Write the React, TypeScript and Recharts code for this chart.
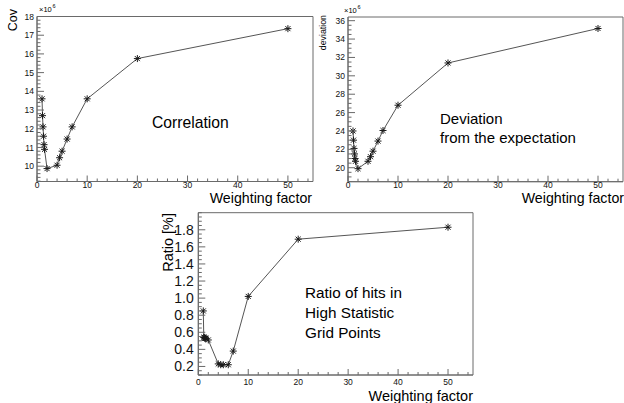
import React from 'react';
import { LineChart, Line, XAxis, YAxis, ReferenceArea } from 'recharts';

// ---- data ----
const weights = [1, 1.1, 1.2, 1.3, 1.4, 1.5, 2, 4, 4.5, 5, 6, 7, 10, 20, 50];
const covValues = [13.6, 12.7, 12.1, 11.6, 11.15, 10.9, 9.87, 10.05, 10.45, 10.8, 11.45, 12.1, 13.6, 15.75, 17.35];
const deviationValues = [24.0, 23.0, 22.1, 21.5, 21.0, 20.7, 19.9, 20.7, 21.2, 21.8, 22.9, 24.05, 26.8, 31.4, 35.15];
const ratioValues = [0.85, 0.54, 0.54, 0.53, 0.53, 0.53, 0.51, 0.23, 0.22, 0.22, 0.22, 0.38, 1.02, 1.69, 1.83];

const xMajorTicks = [0, 10, 20, 30, 40, 50];
const xTickLabels = ['0', '10', '20', '30', '40', '50'];
const covMajorTicks = [10, 11, 12, 13, 14, 15, 16, 17, 18];
const covTickLabels = ['10', '11', '12', '13', '14', '15', '16', '17', '18'];
const devMajorTicks = [20, 22, 24, 26, 28, 30, 32, 34, 36];
const devTickLabels = ['20', '22', '24', '26', '28', '30', '32', '34', '36'];
const ratioMajorTicks = [0.2, 0.4, 0.6, 0.8, 1.0, 1.2, 1.4, 1.6, 1.8];
const ratioTickLabels = ['0.2', '0.4', '0.6', '0.8', '1.0', '1.2', '1.4', '1.6', '1.8'];

const FONT = '"Liberation Sans", Arial, Helvetica, sans-serif';
const AXIS = '#6a6a6a';
const LINE = '#555';
const MARK = '#1a1a1a';

function range(start: number, end: number, step: number) {
  const out: number[] = [];
  const n = Math.round((end - start) / step);
  for (let i = 0; i <= n; i++) out.push(Math.round((start + i * step) * 1000) / 1000);
  return out;
}

const xTicks = range(0, 54, 2);

function buildData(values: number[]) {
  return weights.map((w, i) => ({ w, v: values[i] }));
}

function findIdx(list: number[], v: number) {
  return list.findIndex((m) => Math.abs(m - v) < 1e-6);
}

function makeXTick(fontSize: number, labelDy: number) {
  return (props: any) => {
    const { x, y, payload } = props;
    const idx = findIdx(xMajorTicks, payload.value);
    const len = idx >= 0 ? 6 : 3;
    return (
      <g>
        <line x1={x} x2={x} y1={y} y2={y - len} stroke={AXIS} strokeWidth={1} />
        {idx >= 0 && (
          <text x={x} y={y + labelDy} textAnchor="middle" fontSize={fontSize} fontFamily={FONT} fill="#111">
            {xTickLabels[idx]}
          </text>
        )}
      </g>
    );
  };
}

function makeYTick(majors: number[], labels: string[], fontSize: number, gap: number) {
  return (props: any) => {
    const { x, y, payload } = props;
    const idx = findIdx(majors, payload.value);
    const len = idx >= 0 ? 7 : 3.5;
    return (
      <g>
        <line x1={x} x2={x + len} y1={y} y2={y} stroke={AXIS} strokeWidth={1} />
        {idx >= 0 && (
          <text x={x - gap} y={y} dy="0.36em" textAnchor="end" fontSize={fontSize} fontFamily={FONT} fill="#111">
            {labels[idx]}
          </text>
        )}
      </g>
    );
  };
}

const Star = (props: any) => {
  const { cx, cy, index } = props;
  if (cx == null || cy == null) return <g key={index} />;
  const r = 3.5;
  const d = r * 0.72;
  return (
    <g key={index} stroke={MARK} strokeWidth={1}>
      <line x1={cx - r} x2={cx + r} y1={cy} y2={cy} />
      <line x1={cx} x2={cx} y1={cy - r} y2={cy + r} />
      <line x1={cx - d} x2={cx + d} y1={cy - d} y2={cy + d} />
      <line x1={cx - d} x2={cx + d} y1={cy + d} y2={cy - d} />
    </g>
  );
};

type PanelProps = {
  values: number[];
  width: number;
  height: number;
  margin: { top: number; right: number; bottom: number; left: number };
  yWidth: number;
  xHeight: number;
  yDomain: [number, number];
  yTicks: number[];
  yMajors: number[];
  yLabels: string[];
  yFont: number;
  yGap: number;
  xFont: number;
  xDy: number;
};

function Panel(p: PanelProps) {
  return (
    <LineChart width={p.width} height={p.height} data={buildData(p.values)} margin={p.margin}>
      <XAxis
        dataKey="w"
        type="number"
        domain={[0, 55]}
        allowDataOverflow
        ticks={xTicks}
        interval={0}
        tickSize={0}
        tickMargin={0}
        height={p.xHeight}
        axisLine={{ stroke: AXIS }}
        tickLine={false}
        tick={makeXTick(p.xFont, p.xDy)}
      />
      <YAxis
        dataKey="v"
        type="number"
        domain={p.yDomain}
        allowDataOverflow
        ticks={p.yTicks}
        interval={0}
        tickSize={0}
        tickMargin={0}
        width={p.yWidth}
        axisLine={{ stroke: AXIS }}
        tickLine={false}
        tick={makeYTick(p.yMajors, p.yLabels, p.yFont, p.yGap)}
      />
      <ReferenceArea x1={0} x2={55} y1={p.yDomain[0]} y2={p.yDomain[1]} fill="none" stroke={AXIS} strokeWidth={1} ifOverflow="visible" />
      <Line dataKey="v" stroke={LINE} strokeWidth={1} dot={Star} activeDot={false} isAnimationActive={false} />
    </LineChart>
  );
}

export default function App() {
  return (
    <div style={{ position: 'absolute', left: 0, top: 0, width: 624, height: 403, background: '#fff', overflow: 'hidden', fontFamily: FONT }}>
      <div style={{ position: 'absolute', left: 0, top: 0 }}>
        <Panel
          values={covValues}
          width={330}
          height={200}
          margin={{ top: 16.5, right: 17, bottom: 0, left: 0 }}
          yWidth={37}
          xHeight={18.5}
          yDomain={[9.18, 18]}
          yTicks={range(9.2, 18, 0.2)}
          yMajors={covMajorTicks}
          yLabels={covTickLabels}
          yFont={8.5}
          yGap={3}
          xFont={8.5}
          xDy={6.5}
        />
      </div>
      <div style={{ position: 'absolute', left: 311, top: 0 }}>
        <Panel
          values={deviationValues}
          width={313}
          height={200}
          margin={{ top: 17, right: 1, bottom: 0, left: 0 }}
          yWidth={37}
          xHeight={18.3}
          yDomain={[18.48, 36.4]}
          yTicks={range(18.5, 36, 0.5)}
          yMajors={devMajorTicks}
          yLabels={devTickLabels}
          yFont={8.5}
          yGap={3}
          xFont={8.5}
          xDy={6.5}
        />
      </div>
      <div style={{ position: 'absolute', left: 161, top: 200 }}>
        <Panel
          values={ratioValues}
          width={330}
          height={203}
          margin={{ top: 12.7, right: 18, bottom: 0, left: 0 }}
          yWidth={37.3}
          xHeight={28}
          yDomain={[0.1, 2.0]}
          yTicks={range(0.1, 2.0, 0.05)}
          yMajors={ratioMajorTicks}
          yLabels={ratioTickLabels}
          yFont={14}
          yGap={4.5}
          xFont={8.5}
          xDy={9.5}
        />
      </div>
      <svg width={624} height={403} style={{ position: 'absolute', left: 0, top: 0, pointerEvents: 'none' }} fontFamily={FONT} fill="#000">
        {/* top-left */}
        <text x={39} y={12} fontSize={7.5}>×10</text>
        <text x={52.5} y={7.5} fontSize={5.5}>6</text>
        <text transform="translate(17,9) rotate(-90)" textAnchor="end" fontSize={12.5}>Cov</text>
        <text x={312} y={203} textAnchor="end" fontSize={14.2}>Weighting factor</text>
        <text x={152} y={128} fontSize={15.7}>Correlation</text>
        {/* top-right */}
        <text x={344} y={13} fontSize={7.5}>×10</text>
        <text x={357.5} y={8.5} fontSize={5.5}>6</text>
        <text transform="translate(325.5,15) rotate(-90)" textAnchor="end" fontSize={8.8}>deviation</text>
        <text x={624} y={203} textAnchor="end" fontSize={14.2}>Weighting factor</text>
        <text x={440} y={124} fontSize={15}>Deviation</text>
        <text x={440} y={143} fontSize={15}>from the expectation</text>
        {/* bottom */}
        <text transform="translate(173,213) rotate(-90)" textAnchor="end" fontSize={14.5}>Ratio [%]</text>
        <text x={473} y={401} textAnchor="end" fontSize={14.5}>Weighting factor</text>
        <text x={305} y={298} fontSize={15.3}>Ratio of hits in</text>
        <text x={305} y={318} fontSize={15.3}>High Statistic</text>
        <text x={305} y={337.7} fontSize={15.3}>Grid Points</text>
      </svg>
    </div>
  );
}
